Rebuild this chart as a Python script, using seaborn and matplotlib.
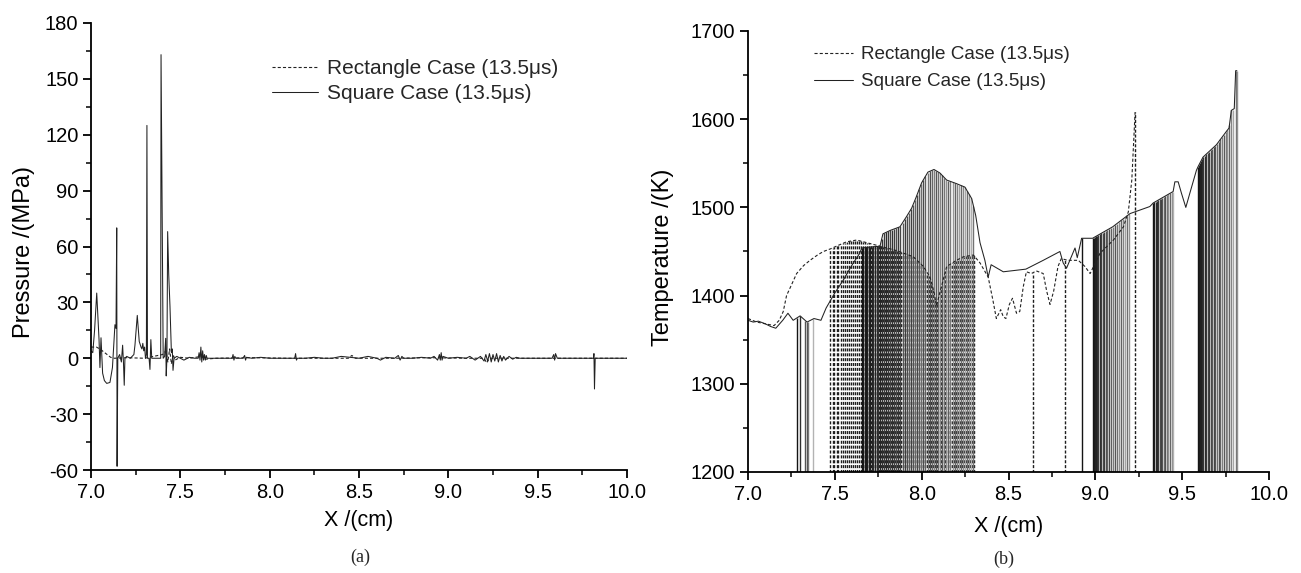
import numpy as np
import pandas as pd
import matplotlib
matplotlib.use("Agg")
import matplotlib.pyplot as plt
from matplotlib.ticker import AutoMinorLocator, FormatStrFormatter
import seaborn as sns

# ---------------- data: panel (a) pressure ----------------
sq_p_x = [7.000, 7.010, 7.020, 7.032, 7.045, 7.050, 7.056, 7.065, 7.075, 7.088, 7.106, 7.120,
          7.134, 7.140, 7.144, 7.146, 7.150, 7.160, 7.170, 7.177, 7.182, 7.186, 7.190, 7.200,
          7.220, 7.240, 7.246, 7.259, 7.270, 7.280, 7.285, 7.290, 7.295, 7.300, 7.305, 7.310,
          7.313, 7.316, 7.325, 7.330, 7.335, 7.340, 7.360, 7.380, 7.390, 7.392, 7.398, 7.404,
          7.412, 7.418, 7.421, 7.425, 7.429, 7.435, 7.442, 7.450, 7.455, 7.459, 7.465, 7.480,
          7.500, 7.520, 7.550, 7.580, 7.600, 7.605, 7.610, 7.615, 7.620, 7.625, 7.630, 7.635,
          7.640, 7.645, 7.650, 7.660, 7.700, 7.750, 7.790, 7.795, 7.800, 7.805, 7.810, 7.850,
          7.860, 7.865, 7.870, 7.900, 7.950, 8.000, 8.050, 8.100, 8.140, 8.145, 8.150, 8.155,
          8.200, 8.250, 8.300, 8.350, 8.400, 8.450, 8.500, 8.550, 8.600, 8.620, 8.650, 8.700,
          8.720, 8.730, 8.740, 8.750, 8.800, 8.850, 8.900, 8.920, 8.940, 8.950, 8.955, 8.960,
          8.965, 8.970, 9.000, 9.050, 9.100, 9.120, 9.150, 9.180, 9.200, 9.210, 9.220, 9.230,
          9.240, 9.250, 9.260, 9.270, 9.280, 9.290, 9.300, 9.310, 9.320, 9.340, 9.360, 9.380,
          9.400, 9.450, 9.500, 9.550, 9.580, 9.590, 9.595, 9.600, 9.610, 9.650, 9.700, 9.750,
          9.800, 9.812, 9.815, 9.818, 9.822, 9.850, 9.900, 10.000]
sq_p_y = [4, 3, 15, 35, 10, -5, 11, -8, -12, -13.5, -13, -5,
          18, 16, 70, -58, 0, 2, -2, 7, -3, -14.5, 0, 1,
          0, 2, 7, 23, 9, 6, 5, 8, 4, 6, 0, 2,
          125, 0, 0, -6, 10, 0, 0, 0, 0, 163, 85, 0,
          1, 10.7, -9.5, 0, 68, 45, 28, 3, 5, -6.5, 0, 1,
          0, -1, 0.5, 0, 0, 3, -1, 6, -2, 4, -1, 2,
          -1, 1.5, 0, 0, 0, 0, 0, 2, -1, 1, 0, 0,
          1.5, -1, 0.5, 0, 0.5, 0, 0, 0, 0, 2.5, -1, 0,
          0, 0.5, 0, 0, 1, 0.5, 0, 1, 0, -1, 0.5, 0,
          1.5, -1, 1, 0, 0, 0.5, 0, 1, -1, 2, -1, 3,
          -1, 1, 0, 0.5, 0, 1, -1, 1, -1.5, 2, -1.5, 2.5,
          -2, 2, -1.5, 2.5, -2, 1.5, -1.5, 1, -1, 1, -0.5, 0.5,
          0, 0, 0, 0, 0, 2, -1, 2.5, 0, 0, 0, 0,
          0, 0, 2.5, -16.5, 0, 0, 0, 0]

rect_p_x = [7.00, 7.03, 7.05, 7.07, 7.09, 7.11, 7.13, 7.20, 7.30, 7.35, 7.40, 7.42, 7.43, 7.44,
            7.45, 7.46, 7.47, 7.50, 7.55, 7.62, 7.64, 7.70, 7.90, 8.10, 8.30, 8.44, 8.46, 8.48,
            8.70, 8.90, 9.10, 9.20, 9.215, 9.23, 9.40, 9.60, 10.00]
rect_p_y = [6, 6, 5, 3.5, 2, 0.5, 0, 0.3, 0, 1, 2, 4, -2, 5,
            -3, 2, -1, 0.5, 0, 1, -0.5, 0, 0.3, 0, 0, 0, 1.5, 0,
            0, 0.3, 0, 0, -2.5, 0, 0, 0, 0]

# ---------------- data: panel (b) temperature ----------------
sq_t_x = [7.000, 7.030, 7.060, 7.100, 7.130, 7.160, 7.200, 7.230, 7.260, 7.300, 7.340, 7.380,
          7.420, 7.450, 7.500, 7.550, 7.600, 7.640, 7.656, 7.700, 7.760, 7.777, 7.820, 7.875,
          7.914, 7.942, 7.967, 8.000, 8.036, 8.071, 8.105, 8.144, 8.200, 8.249, 8.288, 8.311,
          8.336, 8.364, 8.383, 8.400, 8.470, 8.600, 8.700, 8.796, 8.815, 8.834, 8.883, 8.896,
          8.921, 8.984, 9.100, 9.200, 9.314, 9.333, 9.448, 9.458, 9.477, 9.496, 9.521, 9.544,
          9.582, 9.591, 9.620, 9.697, 9.754, 9.770, 9.783, 9.800, 9.808, 9.815]
sq_t_y = [1372, 1370, 1371, 1368, 1365, 1363, 1372, 1380, 1372, 1377, 1370, 1374,
          1372, 1386, 1403, 1418, 1435, 1447, 1454, 1455, 1456, 1470, 1474, 1478,
          1490, 1499, 1511, 1528, 1540, 1543, 1539, 1531, 1527, 1523, 1510, 1491,
          1460, 1440, 1421, 1435, 1427, 1430, 1440, 1450, 1437, 1431, 1454, 1443,
          1465, 1465, 1478, 1493, 1501, 1505, 1518, 1529, 1529, 1516, 1500, 1516,
          1542, 1546, 1557, 1571, 1586, 1590, 1610, 1612, 1655, 1655]

rect_t_x = [7.000, 7.050, 7.100, 7.150, 7.180, 7.203, 7.222, 7.250, 7.280, 7.320, 7.357, 7.400,
            7.434, 7.475, 7.520, 7.568, 7.626, 7.703, 7.780, 7.856, 7.952, 8.010, 8.048, 8.070,
            8.086, 8.100, 8.144, 8.200, 8.240, 8.298, 8.336, 8.383, 8.410, 8.430, 8.455, 8.470,
            8.485, 8.505, 8.523, 8.546, 8.565, 8.585, 8.603, 8.632, 8.660, 8.700, 8.720, 8.739,
            8.760, 8.785, 8.804, 8.840, 8.902, 8.940, 8.970, 9.027, 9.104, 9.162, 9.190, 9.210,
            9.229]
rect_t_y = [1374, 1370, 1368, 1366, 1372, 1382, 1400, 1412, 1425, 1434, 1440, 1446,
            1450, 1453, 1457, 1461, 1463, 1459, 1455, 1451, 1444, 1433, 1421, 1405,
            1388, 1400, 1433, 1440, 1444, 1446, 1437, 1421, 1395, 1374, 1384, 1376,
            1374, 1390, 1397, 1380, 1382, 1410, 1427, 1425, 1428, 1425, 1405, 1390,
            1405, 1433, 1442, 1440, 1440, 1433, 1425, 1448, 1463, 1478, 1495, 1531,
            1608]

# x positions where each temperature curve plunges to the bottom of the axis
rect_drop_x = [7.475, 7.487, 7.498, 7.510, 7.521, 7.533, 7.545, 7.556, 7.568, 7.579, 7.591, 7.603,
               7.614, 7.626, 7.638, 7.649, 7.661, 7.672, 7.684, 7.696, 7.707, 7.719, 7.731, 7.742,
               7.754, 7.765, 7.777, 7.789, 7.800, 7.812, 7.824, 7.835, 7.847, 7.858, 7.870, 7.882,
               7.893, 7.905, 7.917, 7.928, 7.940, 7.951, 7.963, 7.975, 7.986, 7.998, 8.010, 8.021,
               8.033, 8.044, 8.056, 8.068, 8.079, 8.091, 8.103, 8.114, 8.126, 8.137, 8.149, 8.161,
               8.172, 8.184, 8.196, 8.207, 8.219, 8.230, 8.242, 8.254, 8.265, 8.277, 8.289, 8.300,
               8.642, 8.825, 9.229]
sq_drop_groups = [
    [7.280, 7.300, 7.330, 7.337, 7.344, 7.372],
    [7.656, 7.664, 7.672, 7.680, 7.688, 7.696, 7.704, 7.712, 7.720, 7.730, 7.740, 7.750,
     7.760, 7.770, 7.782, 7.794, 7.806, 7.818, 7.830, 7.842, 7.854, 7.866, 7.878, 7.890,
     7.902, 7.914, 7.926, 7.938, 7.950, 7.962, 7.974, 7.986, 7.998, 8.010, 8.022, 8.034,
     8.046, 8.058, 8.070, 8.082, 8.094, 8.106, 8.118, 8.130, 8.142, 8.154, 8.166, 8.178,
     8.190, 8.202, 8.214, 8.226, 8.238, 8.250, 8.262, 8.274, 8.286, 8.298],
    [8.921],
    [8.984, 8.990, 8.996, 9.002, 9.010, 9.018, 9.026, 9.034, 9.042, 9.050, 9.060, 9.070,
     9.080, 9.090, 9.100, 9.112, 9.124, 9.136, 9.148, 9.160, 9.172, 9.184, 9.196],
    [9.333, 9.340, 9.347, 9.354, 9.362, 9.370, 9.378, 9.386, 9.394, 9.402, 9.410, 9.420,
     9.430, 9.440, 9.448],
    [9.591, 9.597, 9.603, 9.609, 9.615, 9.622, 9.630, 9.638, 9.646, 9.655, 9.664, 9.673,
     9.682, 9.691, 9.700, 9.710, 9.720, 9.730, 9.740, 9.750, 9.760, 9.772, 9.783, 9.790,
     9.808, 9.815],
]

x_ticks = [7.0, 7.5, 8.0, 8.5, 9.0, 9.5, 10.0]
p_ticks = [-60, -30, 0, 30, 60, 90, 120, 150, 180]
t_ticks = [1200, 1300, 1400, 1500, 1600, 1700]
label_rect = "Rectangle Case (13.5\u03bcs)"
label_sq = "Square Case (13.5\u03bcs)"

# ---------------- styling ----------------
sns.set_theme(style="ticks")
plt.rcParams["font.family"] = ["Liberation Sans", "DejaVu Sans"]
plt.rcParams["axes.unicode_minus"] = False
FS = 14.5
FS_X = 15.5
FS_Y = 17

W, H = 1301, 573
fig = plt.figure(figsize=(W / 100, H / 100), dpi=100)
axA = fig.add_axes([91 / W, 1 - 470 / H, (627 - 91) / W, (470 - 23) / H])
axB = fig.add_axes([748 / W, 1 - 472 / H, (1269 - 748) / W, (472 - 31) / H])

DASH = (0, (2.8, 1.9))
LC = "#222222"

# panel (a)
sns.lineplot(x=rect_p_x, y=rect_p_y, ax=axA, color=LC, lw=0.8, linestyle=DASH,
             estimator=None, sort=False, label=label_rect)
sns.lineplot(x=sq_p_x, y=sq_p_y, ax=axA, color=LC, lw=0.75,
             estimator=None, sort=False, label=label_sq)
axA.set_xlim(7.0, 10.0)
axA.set_ylim(-60, 180)
axA.set_yticks(p_ticks)

# panel (b)
r_top = np.interp(rect_drop_x, rect_t_x, rect_t_y)
axB.vlines(rect_drop_x, 1100, r_top, colors="#1e1e1e", lw=1.0, linestyles=[(0, (2.2, 1.3))])
for grp in sq_drop_groups:
    tops = np.interp(grp, sq_t_x, sq_t_y)
    n = len(grp)
    cols = [str(round(0.08 + 0.62 * (i / max(n - 1, 1)) * ((i % 3 + 1) / 3 * 0.6 + 0.4), 3))
            for i in range(n)]
    axB.vlines(grp, 1100, tops, colors=cols, lw=1.0)
sns.lineplot(x=rect_t_x, y=rect_t_y, ax=axB, color=LC, lw=0.8, linestyle=DASH,
             estimator=None, sort=False, label=label_rect)
sns.lineplot(x=sq_t_x, y=sq_t_y, ax=axB, color=LC, lw=0.75,
             estimator=None, sort=False, label=label_sq)
axB.set_xlim(7.0, 10.0)
axB.set_ylim(1200, 1700)
axB.set_yticks(t_ticks)

for ax in (axA, axB):
    ax.set_xticks(x_ticks)
    ax.xaxis.set_major_formatter(FormatStrFormatter("%.1f"))
    ax.xaxis.set_minor_locator(AutoMinorLocator(2))
    ax.yaxis.set_minor_locator(AutoMinorLocator(2))
    ax.tick_params(which="major", direction="out", length=6, width=1.3,
                   labelsize=FS, color="black", labelcolor="black", pad=3)
    ax.tick_params(which="minor", direction="out", length=3.5, width=1.1, color="black")
    for s in ("top", "right"):
        ax.spines[s].set_visible(False)
    for s in ("left", "bottom"):
        ax.spines[s].set_linewidth(1.3)
        ax.spines[s].set_color("black")
    ax.set_xlabel("X /(cm)", fontsize=FS_X, color="black")
    ax.grid(False)

axA.set_ylabel("Pressure /(MPa)", fontsize=FS_Y, color="black")
axB.set_ylabel("Temperature /(K)", fontsize=FS_Y, color="black")
axA.yaxis.set_label_coords(-0.1045, 0.488)
axB.yaxis.set_label_coords(-0.142, 0.4875)
axA.xaxis.set_label_coords(0.5, -0.090)
axB.xaxis.set_label_coords(0.5, -0.100)

axA.legend(loc="upper left", bbox_to_anchor=(272 / W, 1 - 59 / H), bbox_transform=fig.transFigure,
           frameon=False, fontsize=15, handlelength=2.2, handletextpad=0.45,
           labelspacing=0.3, borderpad=0, borderaxespad=0)
axB.legend(loc="upper left", bbox_to_anchor=(814 / W, 1 - 46 / H), bbox_transform=fig.transFigure,
           frameon=False, fontsize=13.6, handlelength=2.06, handletextpad=0.42,
           labelspacing=0.53, borderpad=0, borderaxespad=0)

fig.text(360 / W, 1 - 557 / H, "(a)", ha="center", va="center", fontsize=13,
         family=["Liberation Serif", "DejaVu Serif"])
fig.text(1004 / W, 1 - 559 / H, "(b)", ha="center", va="center", fontsize=13,
         family=["Liberation Serif", "DejaVu Serif"])

fig.savefig("out.png", dpi=100, facecolor="white")
